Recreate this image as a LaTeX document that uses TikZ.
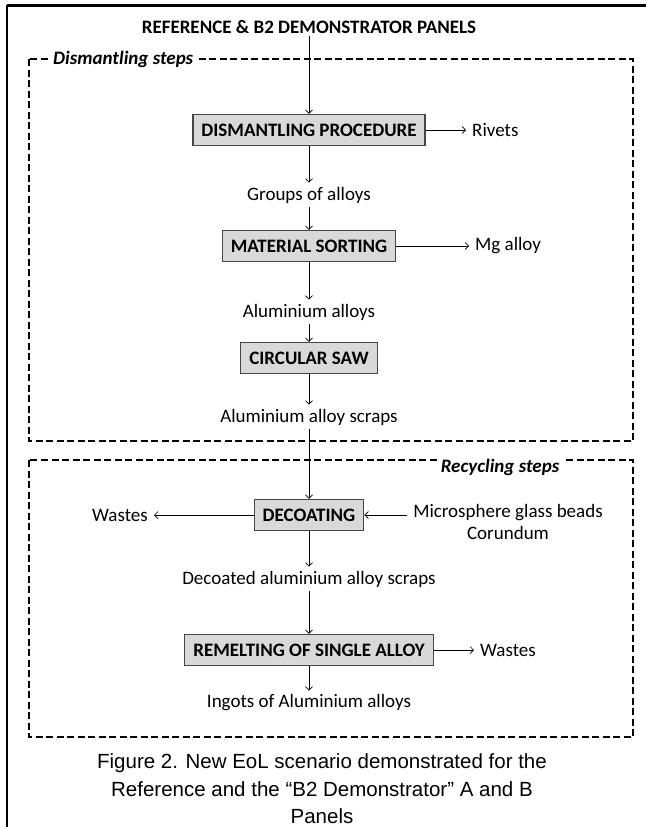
\documentclass[tikz,border=0pt]{standalone}
\usepackage{fontspec}
\setmainfont{Carlito}
\newfontfamily\captionfont{Liberation Sans}
\usepackage{tikz}
\usetikzlibrary{arrows.meta}
\definecolor{boxfill}{RGB}{217,217,217}
\definecolor{boxline}{RGB}{70,70,70}
\tikzset{
    block/.style = {draw=boxline, fill=boxfill, rectangle, line width=1.3pt,
        minimum height=31pt,
        inner xsep=8.5pt,
        font=\fontsize{19}{22}\selectfont\bfseries},
    stream/.style = {inner xsep=6pt, inner ysep=4pt,
        font=\fontsize{19}{22}\selectfont},
    output/.style = {stream, anchor=west},
    heading/.style = {inner sep=2pt, font=\fontsize{19}{22}\selectfont\bfseries},
    phase/.style = {draw, dashed, line width=2pt, dash pattern=on 7pt off 3.5pt},
    phaselabel/.style = {fill=white, inner xsep=4pt, inner ysep=1pt,
        font=\fontsize{19}{22}\selectfont\bfseries\itshape},
    arrow/.style = {draw, line width=0.7pt, -{Straight Barb[length=3.5pt,width=7pt]}},
    figcaption/.style = {align=center, font=\captionfont\fontsize{20.5}{27.5}\selectfont}
}

\begin{document}
\begin{tikzpicture}[x=1pt, y=-1pt]
    \useasboundingbox (0,0) rectangle (646,827);
    \draw[line width=3pt] (7,5) -- (646,5);
    \draw[line width=2.5pt] (7,5) -- (7,827);
    % dismantling and recycling frames
    \draw[phase] (29,59) rectangle (633,441);
    \node[phaselabel, anchor=west] (dismlabel) at (49,59) {Dismantling steps};
    \draw[phase] (29,460) rectangle (633,737);
    \node[phaselabel] (reclabel) at (500,467) {Recycling steps};
    % process
    \node[heading] (panels) at (309,27) {REFERENCE \& B2 DEMONSTRATOR PANELS};
    \node[block] (dismantle) at (309,130) {DISMANTLING PROCEDURE};
    \node[output] (rivets) at (466,130) {Rivets};
    \node[stream] (groups) at (309,195) {Groups of alloys};
    \node[block] (sorting) at (309,246) {MATERIAL SORTING};
    \node[output] (mgalloy) at (469,246) {Mg alloy};
    \node[stream] (alalloys) at (309,312) {Aluminium alloys};
    \node[block] (saw) at (309,358) {CIRCULAR SAW};
    \node[stream] (scraps) at (309,417) {Aluminium alloy scraps};
    \node[block] (decoating) at (309,515) {DECOATING};
    \node[stream, anchor=east] (wastesa) at (154,515) {Wastes};
    \node[stream, align=center] (beads) at (508,522) {Microsphere glass beads\\Corundum};
    \node[stream] (decoated) at (309,579) {Decoated aluminium alloy scraps};
    \node[block] (remelting) at (309,650) {REMELTING OF SINGLE ALLOY};
    \node[output] (wastesb) at (474,650) {Wastes};
    \node[stream] (ingots) at (309,703) {Ingots of Aluminium alloys};
    \draw[arrow] (panels) -- (dismantle);
    \draw[arrow] (dismantle) -- (rivets);
    \draw[arrow] (dismantle) -- (groups);
    \draw[arrow] (groups) -- (sorting);
    \draw[arrow] (sorting) -- (mgalloy);
    \draw[arrow] (sorting) -- (alalloys);
    \draw[arrow] (alalloys) -- (saw);
    \draw[arrow] (saw) -- (scraps);
    \draw[arrow] (scraps) -- (decoating);
    \draw[arrow] (decoating) -- (wastesa);
    \draw[arrow] (beads.west |- decoating) -- (decoating);
    \draw[arrow] (decoating) -- (decoated);
    \draw[arrow] (decoated) -- (remelting);
    \draw[arrow] (remelting) -- (wastesb);
    \draw[arrow] (remelting) -- (ingots);
    \node[figcaption] (caption) at (322,789) {Figure 2. New EoL scenario demonstrated for the\\Reference and the “B2 Demonstrator” A and B\\Panels};
\end{tikzpicture}
\end{document}
